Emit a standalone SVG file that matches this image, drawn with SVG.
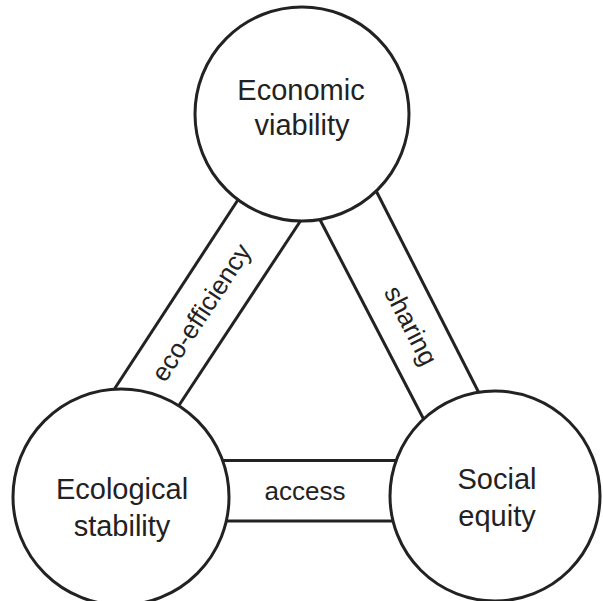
<svg xmlns="http://www.w3.org/2000/svg" width="603" height="601" viewBox="0 0 603 601">
<style>
.band{stroke:#222;stroke-width:3;fill:none;stroke-linecap:butt}
.node{fill:#fff;stroke:#222;stroke-width:3}
.lbl{font-family:"Liberation Sans",Arial,sans-serif;font-size:29px;fill:#222;text-anchor:middle}
.blbl{font-family:"Liberation Sans",Arial,sans-serif;font-size:26px;fill:#222;text-anchor:middle}
</style>
<rect width="603" height="601" fill="#fff"/>
<g id="connectors">
<g id="eco-efficiency">
<line class="band" x1="247" y1="186" x2="102" y2="408"/>
<line class="band" x1="309" y1="208" x2="168" y2="422"/>
<text class="blbl" transform="translate(202,313) rotate(-56.7)" dy="0.3em">eco-efficiency</text>
</g>
<g id="sharing">
<line class="band" x1="312.6" y1="205.5" x2="432.4" y2="436"/>
<line class="band" x1="369.2" y1="177.2" x2="487.4" y2="409.5"/>
<text class="blbl" transform="translate(410,326) rotate(62.8)" dy="0.3em">sharing</text>
</g>
<g id="access">
<line class="band" x1="200" y1="460.5" x2="420" y2="460.5"/>
<line class="band" x1="200" y1="521" x2="420" y2="521"/>
<text class="blbl" x="305" y="500">access</text>
</g>
</g>
<g id="economic">
<circle class="node" cx="302" cy="114" r="107"/>
<text class="lbl" x="301" y="100">Economic</text>
<text class="lbl" x="302" y="135">viability</text>
</g>
<g id="ecological">
<circle class="node" cx="121" cy="497" r="108"/>
<text class="lbl" x="122" y="499">Ecological</text>
<text class="lbl" x="122" y="536">stability</text>
</g>
<g id="social">
<circle class="node" cx="495" cy="496" r="105"/>
<text class="lbl" x="497" y="489">Social</text>
<text class="lbl" x="497" y="526">equity</text>
</g>
</svg>
